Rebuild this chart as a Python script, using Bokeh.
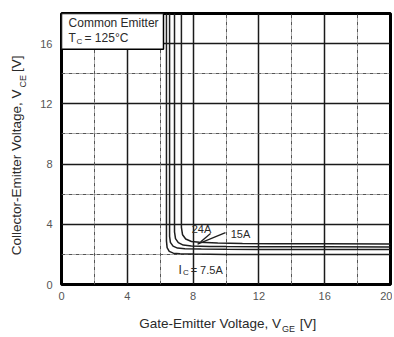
from bokeh.plotting import figure
from bokeh.models import Range1d, FixedTicker, Grid, Label, BoxAnnotation, LinearAxis
from bokeh.embed import file_html
from bokeh.resources import INLINE

# ---- data ----
x_ticks = [0, 4, 8, 12, 16, 20]
y_ticks = [0, 4, 8, 12, 16]
x_minor = [2, 6, 10, 14, 18]
y_minor = [2, 6, 10, 14]

vge_7p5A = [6.38, 6.38, 6.42, 6.55, 6.8, 7.2, 8.0, 10.0, 12.0, 16.0, 20.0]
vce_7p5A = [18.0, 2.9, 2.45, 2.2, 2.08, 2.04, 2.02, 2.0, 2.0, 2.0, 2.0]

vge_mid = [6.57, 6.57, 6.62, 6.78, 7.05, 7.5, 8.5, 10.0, 12.0, 16.0, 20.0]
vce_mid = [18.0, 3.2, 2.8, 2.55, 2.42, 2.37, 2.35, 2.34, 2.33, 2.32, 2.32]

vge_15A = [6.87, 6.87, 6.93, 7.1, 7.4, 7.9, 9.0, 10.0, 12.0, 16.0, 20.0]
vce_15A = [18.0, 3.5, 3.05, 2.78, 2.62, 2.56, 2.53, 2.52, 2.51, 2.5, 2.49]

vge_24A = [7.29, 7.29, 7.36, 7.55, 7.9, 8.4, 9.5, 11.0, 13.0, 16.0, 20.0]
vce_24A = [18.0, 3.8, 3.3, 3.02, 2.86, 2.8, 2.76, 2.73, 2.71, 2.7, 2.69]

curves = [(vge_7p5A, vce_7p5A), (vge_mid, vce_mid), (vge_15A, vce_15A), (vge_24A, vce_24A)]

# leader lines for the current labels (annotation positions)
leader_x0 = [9.06, 9.97]
leader_y0 = [3.38, 3.44]
leader_x1 = [8.45, 8.27]
leader_y1 = [2.82, 2.68]

# axis titles, split so that the subscripts can be smaller (position -> text)
x_title_main = {9.03: "Gate-Emitter Voltage, V", 14.98: "[V]"}
x_title_sub = {13.8: "GE"}
y_title_main = {7.445: "Collector-Emitter Voltage, V", 14.66: "[V]"}
y_title_sub = {13.5: "CE"}

FONT = "Liberation Sans"
TXT = "#2a2a2a"
W, H = 392, 336

p = figure(width=W, height=H, x_range=Range1d(0, 20), y_range=Range1d(0, 18),
           output_backend="svg", toolbar_location=None,
           min_border_left=61, min_border_right=2, min_border_top=13, min_border_bottom=H - 285)
p.background_fill_color = "white"
p.border_fill_color = "white"
p.outline_line_color = "black"
p.outline_line_width = 3
p.outline_line_alpha = 1.0


def style_axis(ax, size, color, standoff):
    ax.axis_line_color = None
    ax.major_tick_line_color = None
    ax.minor_tick_line_color = None
    ax.major_tick_out = 0
    ax.major_tick_in = 0
    ax.minor_tick_out = 0
    ax.minor_tick_in = 0
    ax.major_label_text_font = FONT
    ax.major_label_text_font_size = size
    ax.major_label_text_color = color
    ax.major_label_standoff = standoff


style_axis(p.xaxis[0], "11px", "#555555", 7)
style_axis(p.yaxis[0], "11px", "#555555", 9)
p.xaxis.ticker = FixedTicker(ticks=x_ticks)
p.yaxis.ticker = FixedTicker(ticks=y_ticks)


# extra axes that carry the axis titles
def title_axis(mapping, side, size, standoff):
    ax = LinearAxis(ticker=FixedTicker(ticks=list(mapping.keys()), minor_ticks=[]),
                    major_label_overrides=dict(mapping))
    style_axis(ax, size, TXT, standoff)
    if side == "left":
        ax.major_label_orientation = "parallel"
    p.add_layout(ax, side)
    return ax


title_axis(x_title_main, "below", "13.5px", 13)
title_axis(x_title_sub, "below", "9px", -10)
title_axis(y_title_sub, "left", "9px", 10)
title_axis(y_title_main, "left", "13.5px", -10)

# major grid (solid)
p.xgrid.grid_line_color = "#1a1a1a"
p.ygrid.grid_line_color = "#1a1a1a"
p.xgrid.grid_line_width = 1.5
p.ygrid.grid_line_width = 1.5
p.xgrid.ticker = FixedTicker(ticks=x_ticks)
p.ygrid.ticker = FixedTicker(ticks=y_ticks)

# minor grid (dash-dot)
p.add_layout(Grid(dimension=0, ticker=FixedTicker(ticks=x_minor), grid_line_color="#555555",
                  grid_line_width=1, grid_line_dash="4 1 1 1"))
p.add_layout(Grid(dimension=1, ticker=FixedTicker(ticks=y_minor), grid_line_color="#555555",
                  grid_line_width=1, grid_line_dash="4 1 1 1"))

# curves
for xs, ys in curves:
    p.line(xs, ys, line_color="#1e1e1e", line_width=1.5)

p.segment(leader_x0, leader_y0, leader_x1, leader_y1, line_color="#1e1e1e", line_width=1.3)


def lab(x, y, text, size="11px", align="left", baseline="middle"):
    p.add_layout(Label(x=x, y=y, text=text, text_font=FONT, text_font_size=size,
                       text_color=TXT, text_align=align, text_baseline=baseline,
                       background_fill_color=None, border_line_color=None))


# curve labels
lab(8.51, 3.71, "24A", align="center")
lab(10.88, 3.38, "15A", align="center")
lab(7.12, 0.99, "I", size="12px")
lab(7.38, 0.79, "C", size="8px")
lab(7.85, 0.99, "= 7.5A", size="11px")

# legend box
p.add_layout(BoxAnnotation(left=0, right=6.2, bottom=15.62, top=18, fill_color="white",
                           fill_alpha=1.0, line_color="black", line_width=1.5, line_alpha=1.0))
lab(0.43, 17.34, "Common Emitter", size="12px")
lab(0.43, 16.35, "T", size="12px")
lab(0.91, 16.15, "C", size="8px")
lab(1.4, 16.35, "= 125\u00b0C", size="12px")

open("out.html", "w").write(file_html(p, INLINE))
